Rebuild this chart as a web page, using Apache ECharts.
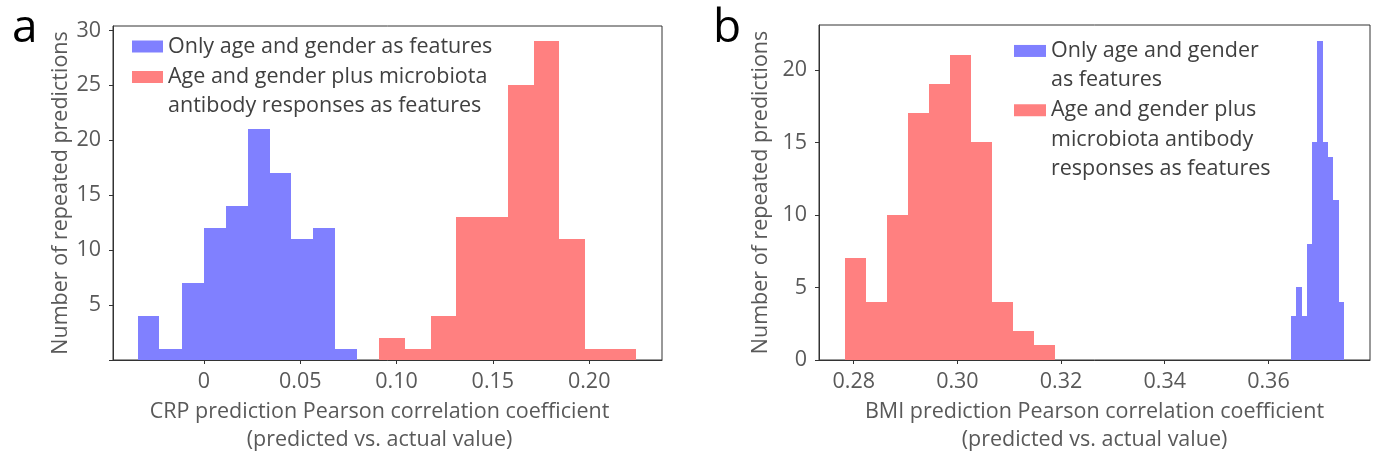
<!DOCTYPE html>
<html><head><meta charset="utf-8">
<script src="https://cdn.jsdelivr.net/npm/echarts@6/dist/echarts.min.js"></script>
<style>html,body{margin:0;padding:0;background:#fff}#c{width:1373px;height:459px}</style>
</head><body><div id="c"></div>
<script>
// ---- Panel a: CRP ----
const crpBlueEdges = [-0.0340, -0.0232, -0.0113, 0.0000, 0.0115, 0.0228, 0.0342, 0.0453, 0.0568, 0.0681, 0.0795];
const crpBlueCounts = [4, 1, 7, 12, 14, 21, 17, 11, 12, 1];
const crpRedEdges = [0.0907, 0.1045, 0.1178, 0.1311, 0.1444, 0.1577, 0.1712, 0.1844, 0.1977, 0.2111, 0.2245];
const crpRedCounts = [2, 1, 4, 13, 13, 25, 29, 11, 1, 1];
const crpXTicks = [0, 0.05, 0.10, 0.15, 0.20];
const crpXTickLabels = ['0', '0.05', '0.10', '0.15', '0.20'];
const crpYTicks = [0, 5, 10, 15, 20, 25, 30];
const crpYLabelTicks = [5, 10, 15, 20, 25, 30];
// ---- Panel b: BMI ----
const bmiRedEdges = [0.2783, 0.2824, 0.2864, 0.2905, 0.2945, 0.2986, 0.3026, 0.3067, 0.3108, 0.3148, 0.3189];
const bmiRedCounts = [7, 4, 10, 17, 19, 21, 15, 4, 2, 1];
const bmiBlueEdges = [0.3643, 0.3653, 0.3664, 0.3674, 0.3684, 0.3694, 0.3705, 0.3715, 0.3725, 0.3736, 0.3746];
const bmiBlueCounts = [3, 5, 3, 8, 15, 22, 15, 14, 11, 4];
const bmiXTicks = [0.28, 0.30, 0.32, 0.34, 0.36];
const bmiXTickLabels = ['0.28', '0.30', '0.32', '0.34', '0.36'];
const bmiYTicks = [0, 5, 10, 15, 20];

const blueName = 'Only age and gender as features';
const redName = 'Age and gender plus microbiota antibody responses as features';
const xTitleA = 'CRP prediction Pearson correlation coefficient\n(predicted vs. actual value)';
const xTitleB = 'BMI prediction Pearson correlation coefficient\n(predicted vs. actual value)';
const yTitle = 'Number of repeated predictions';

const BLUE = '#8080ff', RED = '#ff8080';
const FONT = 'Open Sans';
const TXT = '#595959', AX = '#333333';
const FS = 21.5;

function bins(edges, counts) {
  return counts.map((c, i) => [edges[i], edges[i + 1], c]);
}
function renderItem(params, api) {
  const p0 = api.coord([api.value(0), api.value(2)]);
  const p1 = api.coord([api.value(1), 0]);
  const x0 = Math.round(p0[0]), x1 = Math.round(p1[0]);
  const y0 = Math.round(p0[1]), y1 = Math.round(p1[1]);
  return {
    type: 'rect',
    shape: { x: x0, y: y0, width: x1 - x0, height: y1 - y0 },
    style: { fill: api.visual('color') }
  };
}
function labelFor(ticks, labels) {
  return v => { for (let i = 0; i < ticks.length; i++) if (Math.abs(ticks[i] - v) < 1e-9) return labels[i]; return ''; };
}
function xAxis(gi, min, max, ticks, labels, title, pad) {
  return {
    type: 'value', gridIndex: gi, min, max,
    splitLine: { show: false },
    axisLine: { show: true, onZero: false, lineStyle: { color: AX, width: 1 } },
    axisTick: { show: true, length: 4, customValues: ticks, lineStyle: { color: AX } },
    axisLabel: { customValues: ticks, formatter: labelFor(ticks, labels), color: TXT, fontSize: FS, fontFamily: FONT, margin: 11 },
    name: title, nameLocation: 'middle', nameGap: 38,
    nameTextStyle: { color: TXT, fontSize: FS, fontFamily: FONT, lineHeight: 28, padding: pad }
  };
}
function yAxis(gi, max, ticks, labelTicks, gap) {
  return {
    type: 'value', gridIndex: gi, min: 0, max,
    splitLine: { show: false },
    axisLine: { show: true, onZero: false, lineStyle: { color: AX, width: 1 } },
    axisTick: { show: true, length: 4, customValues: ticks, lineStyle: { color: AX } },
    axisLabel: { customValues: labelTicks, formatter: v => String(v), color: TXT, fontSize: FS, fontFamily: FONT, margin: 12 },
    name: yTitle, nameLocation: 'middle', nameGap: gap,
    nameTextStyle: { color: TXT, fontSize: FS, fontFamily: FONT }
  };
}
function legend(left, top, name, text, lh, iw) {
  return {
    left, top, padding: 0, orient: 'vertical', selectedMode: false,
    itemWidth: iw, itemHeight: 12, icon: 'rect',
    data: [name],
    formatter: () => text,
    textStyle: { color: '#404040', fontSize: FS, fontFamily: FONT, lineHeight: lh }
  };
}

const chart = echarts.init(document.getElementById('c'), null, { renderer: 'canvas' });
chart.setOption({
  animation: false,
  backgroundColor: '#fff',
  title: [
    { text: 'a', left: 12, top: 6, padding: 0, textStyle: { fontSize: 46, fontWeight: 'normal', color: '#000', fontFamily: FONT, lineHeight: 46 } },
    { text: 'b', left: 713, top: 6, padding: 0, textStyle: { fontSize: 46, fontWeight: 'normal', color: '#000', fontFamily: FONT, lineHeight: 46 } }
  ],
  grid: [
    { left: 113, top: 26, width: 549, height: 343, show: true, borderColor: AX, borderWidth: 1, backgroundColor: 'transparent' },
    { left: 819, top: 25, width: 551, height: 345, show: true, borderColor: AX, borderWidth: 1, backgroundColor: 'transparent' }
  ],
  xAxis: [
    xAxis(0, -0.0472, 0.2378, crpXTicks, crpXTickLabels, xTitleA, [0, 16, 0, 0]),
    xAxis(1, 0.2733, 0.3796, bmiXTicks, bmiXTickLabels, xTitleB, [0, 0, 0, 0])
  ],
  yAxis: [
    yAxis(0, 30.4, crpYTicks, crpYLabelTicks, 41),
    yAxis(1, 23.1, bmiYTicks, bmiYTicks, 47)
  ],
  legend: [
    legend(132, 32, blueName, 'Only age and gender as features', 29, 31),
    legend(132, 33.5, redName, '\nAge and gender plus microbiota\nantibody responses as features', 29, 31),
    legend(1014, 7, blueName, '\nOnly age and gender\nas features', 29.3, 32),
    legend(1014, 37, redName, '\n\nAge and gender plus\nmicrobiota antibody\nresponses as features', 29.3, 32)
  ],
  series: [
    { type: 'custom', name: blueName, xAxisIndex: 0, yAxisIndex: 0, color: BLUE, renderItem, encode: { x: [0, 1], y: 2 }, data: bins(crpBlueEdges, crpBlueCounts) },
    { type: 'custom', name: redName, xAxisIndex: 0, yAxisIndex: 0, color: RED, renderItem, encode: { x: [0, 1], y: 2 }, data: bins(crpRedEdges, crpRedCounts) },
    { type: 'custom', name: blueName, xAxisIndex: 1, yAxisIndex: 1, color: BLUE, renderItem, encode: { x: [0, 1], y: 2 }, data: bins(bmiBlueEdges, bmiBlueCounts) },
    { type: 'custom', name: redName, xAxisIndex: 1, yAxisIndex: 1, color: RED, renderItem, encode: { x: [0, 1], y: 2 }, data: bins(bmiRedEdges, bmiRedCounts) }
  ]
});
</script></body></html>
